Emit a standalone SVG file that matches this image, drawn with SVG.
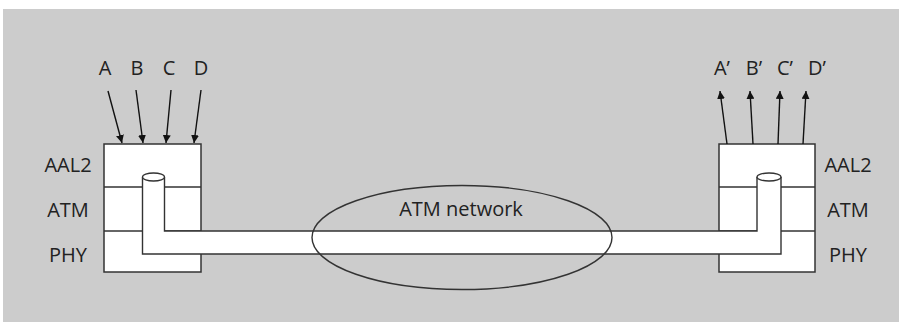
<svg xmlns="http://www.w3.org/2000/svg" width="899" height="322" viewBox="0 0 899 322">
<defs>
<marker id="ah" viewBox="0 0 10 10" refX="10" refY="5" markerWidth="8" markerHeight="8" markerUnits="userSpaceOnUse" orient="auto">
<path d="M0,0 L10,5 L0,10 z" fill="#111"/>
</marker>
<style>
.lbl{font-family:"Open Sans","Noto Sans",sans-serif;font-size:20px;fill:#222;text-anchor:middle}
.box{fill:#fff;stroke:#333;stroke-width:1.5}
.ln{fill:none;stroke:#333;stroke-width:1.4}
.arr{fill:none;stroke:#111;stroke-width:1.4;marker-end:url(#ah)}
</style>
</defs>
<rect x="3" y="9" width="896" height="313" fill="#cccccc"/>
<g id="left-stack">
<rect class="box" x="104" y="144" width="97" height="128"/>
<line class="ln" x1="104" y1="187" x2="201" y2="187"/>
<line class="ln" x1="104" y1="231" x2="201" y2="231"/>
<text class="lbl" x="68" y="172">AAL2</text>
<text class="lbl" x="68" y="217">ATM</text>
<text class="lbl" x="68" y="262">PHY</text>
</g>
<g id="right-stack">
<rect class="box" x="719" y="144" width="96" height="128"/>
<line class="ln" x1="719" y1="187" x2="815" y2="187"/>
<line class="ln" x1="719" y1="231" x2="815" y2="231"/>
<text class="lbl" x="848" y="172">AAL2</text>
<text class="lbl" x="848" y="217">ATM</text>
<text class="lbl" x="848" y="262">PHY</text>
</g>
<g id="pipe">
<path d="M142.5,177 V254 H781 V177 H757 V231 H164.5 V177 Z" fill="#fff"/>
<path class="ln" d="M142.5,177 V254 H781 V177"/>
<path class="ln" d="M164.5,177 V231 H757 V177"/>
<ellipse cx="153.5" cy="177" rx="11" ry="4" fill="#fff" stroke="#333" stroke-width="1.3"/>
<ellipse cx="769" cy="177" rx="12" ry="4" fill="#fff" stroke="#333" stroke-width="1.3"/>
</g>
<g id="atm-network">
<ellipse cx="462" cy="237.5" rx="150" ry="52" fill="none" stroke="#333" stroke-width="1.4"/>
<text class="lbl" x="461" y="216">ATM network</text>
</g>
<g id="inputs">
<text class="lbl" x="105" y="75">A</text>
<text class="lbl" x="137" y="75">B</text>
<text class="lbl" x="169" y="75">C</text>
<text class="lbl" x="201" y="75">D</text>
</g>
<g id="outputs">
<text class="lbl" x="722" y="75">A’</text>
<text class="lbl" x="754" y="75">B’</text>
<text class="lbl" x="785" y="75">C’</text>
<text class="lbl" x="817" y="75">D’</text>
</g>
<g id="connectors">
<line class="arr" x1="108" y1="91" x2="122" y2="143"/>
<line class="arr" x1="136" y1="90" x2="143" y2="143"/>
<line class="arr" x1="171" y1="90" x2="166" y2="143"/>
<line class="arr" x1="201" y1="90" x2="194" y2="143"/>
<line class="arr" x1="727" y1="144" x2="720" y2="91"/>
<line class="arr" x1="753" y1="144" x2="750" y2="91"/>
<line class="arr" x1="778" y1="144" x2="780" y2="91"/>
<line class="arr" x1="803" y1="144" x2="806" y2="91"/>
</g>
</svg>
